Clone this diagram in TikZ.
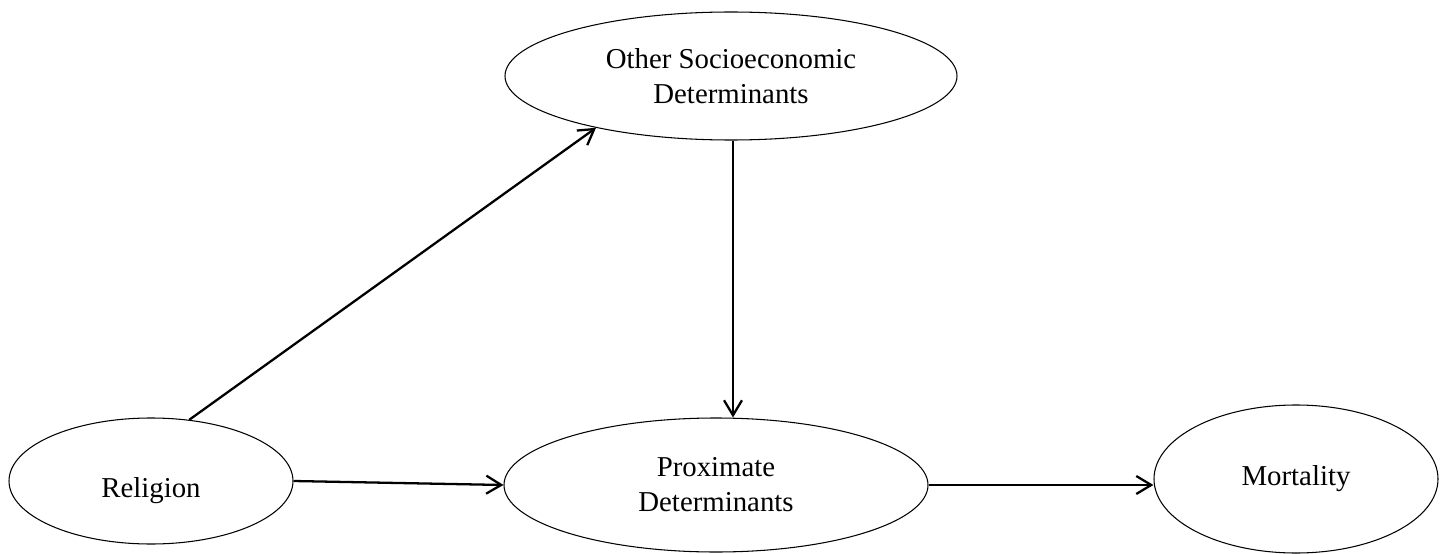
\documentclass[tikz,border=0pt]{standalone}
\usepackage{fontspec}
\setmainfont{Liberation Serif}
\usepackage{tikz}
\usetikzlibrary{arrows.meta, positioning, shapes.geometric}

\begin{document}
\begin{tikzpicture}[x=0.02cm, y=-0.02cm, >={Straight Barb[length=0.3cm, width=0.36cm]},
  oval/.style={draw, ellipse, line width=0.6pt, inner sep=0pt, align=center,
    font=\fontsize{16.4pt}{19.9pt}\selectfont},
  link/.style={->, line width=1.3pt}]

\useasboundingbox (0,0) rectangle (1447,554);

% the four factors
\node[oval, minimum width=452*0.02cm, minimum height=128*0.02cm] (oth) at (731,76) {Other Socioeconomic\\Determinants};
\node[oval, minimum width=284*0.02cm, minimum height=126*0.02cm, text height=0.64cm, text depth=0pt] (rel) at (151,481) {Religion};
\node[oval, minimum width=424*0.02cm, minimum height=134*0.02cm] (prox) at (716,485) {Proximate\\Determinants};
\node[oval, minimum width=284*0.02cm, minimum height=148*0.02cm] (mort) at (1296,479) {Mortality};

% paths
\draw[link] (rel.58.6) -- (oth.201);
\draw[link] ([xshift=0.04cm]oth.south) -- ([xshift=0.04cm]oth.south |- prox.north);
\draw[link] (rel.east) -- (prox.west);
\draw[link] (prox.east) -- (prox.east -| mort.west);

\end{tikzpicture}
\end{document}
